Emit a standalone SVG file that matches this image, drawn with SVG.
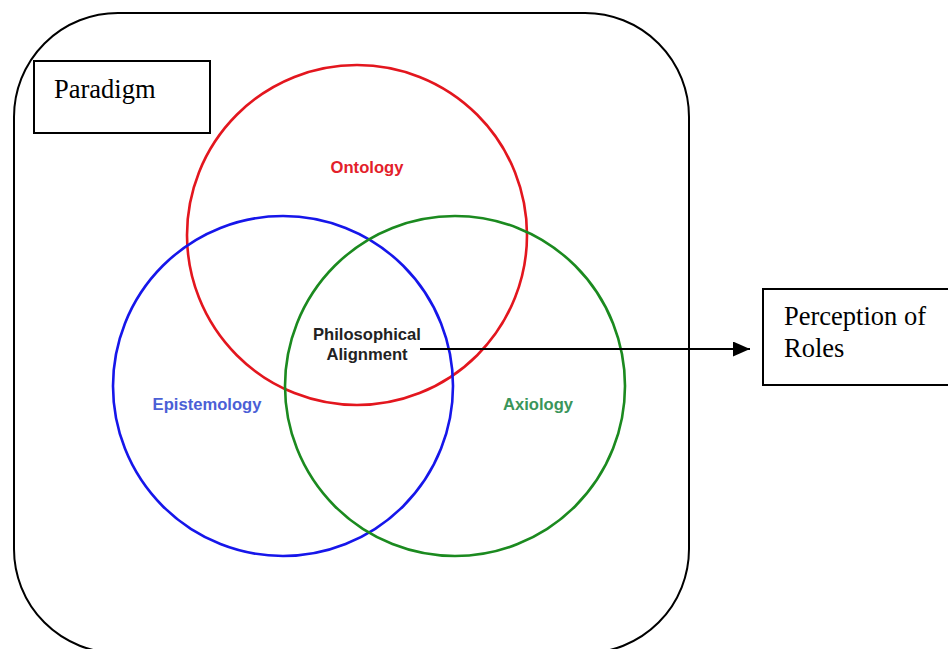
<svg xmlns="http://www.w3.org/2000/svg" width="948" height="649" viewBox="0 0 948 649">
  <style>
    .frame { fill: none; stroke: #000; stroke-width: 2; }
    .box { fill: #fff; stroke: #000; stroke-width: 2; }
    .serif { font-family: "Liberation Serif", "Times New Roman", serif; font-size: 26.5px; fill: #000; }
    .ring { fill: none; stroke-width: 2.6; }
    .lbl { font-family: "Liberation Sans", Arial, sans-serif; font-weight: bold; font-size: 16.6px; text-anchor: middle; }
    .conn { stroke: #000; stroke-width: 2; fill: none; }
  </style>
  <defs>
    <marker id="arrow" viewBox="0 0 10 10" refX="10" refY="5" markerWidth="17" markerHeight="15" markerUnits="userSpaceOnUse" orient="auto" preserveAspectRatio="none">
      <path d="M0,0 L10,5 L0,10 z" fill="#000"/>
    </marker>
  </defs>
  <rect width="948" height="649" fill="#fff"/>

  <!-- outer paradigm frame -->
  <g id="frame">
    <rect class="frame" x="14" y="13" width="675" height="640" rx="104" ry="104"/>
  </g>

  <g id="paradigm">
    <rect class="box" x="34" y="61" width="176" height="72"/>
    <text class="serif" x="54" y="98">Paradigm</text>
  </g>

  <!-- Venn circles -->
  <g id="ontology">
    <circle class="ring" cx="357" cy="235" r="170" stroke="#e3161e"/>
    <text class="lbl" x="367" y="173" fill="#e3202a">Ontology</text>
  </g>
  <g id="epistemology">
    <circle class="ring" cx="283" cy="386" r="170" stroke="#1616ea"/>
    <text class="lbl" x="207" y="410" fill="#4b5fd6">Epistemology</text>
  </g>
  <g id="axiology">
    <circle class="ring" cx="455" cy="386" r="170" stroke="#1b8a1f"/>
    <text class="lbl" x="538" y="410" fill="#3a955a">Axiology</text>
  </g>
  <g id="alignment">
    <text class="lbl" x="367" y="340" fill="#222">Philosophical</text>
    <text class="lbl" x="367" y="360" fill="#222">Alignment</text>
  </g>

  <g id="roles">
    <rect class="box" x="763" y="289" width="190" height="96"/>
    <text class="serif" x="784" y="325">Perception of</text>
    <text class="serif" x="784" y="357">Roles</text>
  </g>

  <g id="connectors">
    <line class="conn" x1="420" y1="349" x2="750" y2="349" marker-end="url(#arrow)"/>
  </g>
</svg>
